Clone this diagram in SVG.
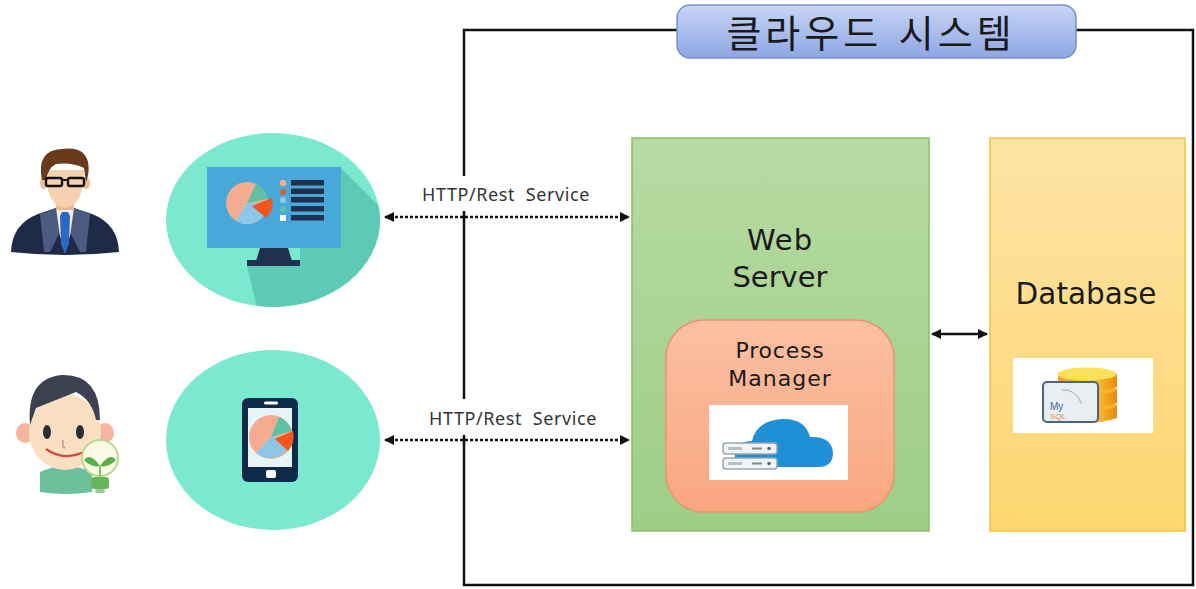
<svg xmlns="http://www.w3.org/2000/svg" width="1196" height="589" viewBox="0 0 1196 589">
  <defs>
    <style>
      .lbl { font-family: "Noto Sans", "Liberation Sans", sans-serif; fill: #333; letter-spacing: 0.6px; }
      .big { font-family: "DejaVu Sans", "Liberation Sans", sans-serif; fill: #1a1a1a; text-anchor: middle; }
      .kr { font-family: "Noto Sans CJK KR", "Noto Sans", sans-serif; fill: #1a1a1a; text-anchor: middle; }
      .frame { fill: none; stroke: #111; stroke-width: 2.5; }
      .dotted { fill: none; stroke: #111; stroke-width: 2.5; stroke-dasharray: 3 2; }
      .solid { fill: none; stroke: #111; stroke-width: 2.5; }
      .bubble { fill: #7be9d0; }
    </style>
    <linearGradient id="gTitle" x1="0" y1="0" x2="0" y2="1">
      <stop offset="0" stop-color="#c7d5f5"/>
      <stop offset="1" stop-color="#8ea6e3"/>
    </linearGradient>
    <linearGradient id="gWeb" x1="0" y1="0" x2="0" y2="1">
      <stop offset="0" stop-color="#b7daa3"/>
      <stop offset="1" stop-color="#9dce86"/>
    </linearGradient>
    <linearGradient id="gDb" x1="0" y1="0" x2="0" y2="1">
      <stop offset="0" stop-color="#fee3a6"/>
      <stop offset="1" stop-color="#fdd66f"/>
    </linearGradient>
    <linearGradient id="gProc" x1="0" y1="0" x2="0" y2="1">
      <stop offset="0" stop-color="#fbc0a2"/>
      <stop offset="1" stop-color="#f9a680"/>
    </linearGradient>
    <linearGradient id="gDisc" x1="0" y1="0" x2="1" y2="0">
      <stop offset="0" stop-color="#f6a21a"/>
      <stop offset="0.5" stop-color="#fdd54a"/>
      <stop offset="1" stop-color="#e98a10"/>
    </linearGradient>
    <clipPath id="clipTop">
      <ellipse cx="273" cy="220" rx="107" ry="87"/>
    </clipPath>
    <marker id="ah" viewBox="0 0 10 10" refX="9" refY="5" markerWidth="4" markerHeight="4" orient="auto-start-reverse" markerUnits="strokeWidth">
      <path d="M0,0 L10,5 L0,10 Z" fill="#111"/>
    </marker>
  </defs>

  <rect width="1196" height="589" fill="#fff"/>

  <!-- outer frame of the cloud system -->
  <g id="cloud-frame">
    <path class="frame" d="M678,30 H464 V585 H1193 V30 H1076"/>
    <rect x="677" y="5" width="399" height="53" rx="13" fill="url(#gTitle)" stroke="#7a90cc" stroke-width="1.5"/>
    <text class="kr" x="871" y="47" font-size="38" letter-spacing="4" word-spacing="4">클라우드 시스템</text>
  </g>

  <!-- connectors -->
  <g id="connectors">
    <rect x="405" y="176" width="200" height="35" fill="#fff"/>
    <rect x="410" y="399" width="205" height="36" fill="#fff"/>
    <line class="dotted" x1="385" y1="217" x2="629" y2="217" marker-start="url(#ah)" marker-end="url(#ah)"/>
    <line class="dotted" x1="385" y1="440" x2="629" y2="440" marker-start="url(#ah)" marker-end="url(#ah)"/>
    <line class="solid" x1="932" y1="334" x2="987" y2="334" marker-start="url(#ah)" marker-end="url(#ah)"/>
    <text class="lbl" x="506" y="201" font-size="18" text-anchor="middle" xml:space="preserve">HTTP/Rest  Service</text>
    <text class="lbl" x="513" y="425" font-size="18" text-anchor="middle" xml:space="preserve">HTTP/Rest  Service</text>
  </g>

  <!-- businessman -->
  <g id="user-manager">
    <path d="M11,252 Q12,224 38,214 L56,208 L74,208 L92,214 Q118,224 119,252 Q65,258 11,252 Z" fill="#1f2a48"/>
    <path d="M40,214 L56,208 L60,232 L50,252 L44,252 Z" fill="#4c5b80"/>
    <path d="M90,214 L74,208 L70,232 L80,252 L86,252 Z" fill="#4c5b80"/>
    <path d="M56,208 L74,208 L70,236 L65,250 L60,236 Z" fill="#f1f1f1"/>
    <rect x="56" y="196" width="18" height="14" fill="#e9b991"/>
    <path d="M62,212 L68,212 L70,216 L69,244 L65,254 L61,244 L60,216 Z" fill="#2b68c4"/>
    <ellipse cx="44" cy="183" rx="4" ry="6" fill="#eebc96"/>
    <ellipse cx="86" cy="183" rx="4" ry="6" fill="#eebc96"/>
    <path d="M46,170 Q46,206 65,208 Q84,206 84,170 Z" fill="#f5d1b0"/>
    <path d="M42,180 Q36,150 62,149 Q84,146 88,162 Q90,172 86,182 L84,168 Q72,162 56,164 Q48,168 46,180 Z" fill="#6a3a1c"/>
    <rect x="46" y="178" width="16" height="8" rx="2" fill="none" stroke="#111" stroke-width="2.4"/>
    <rect x="68" y="178" width="16" height="8" rx="2" fill="none" stroke="#111" stroke-width="2.4"/>
    <line x1="62" y1="180" x2="68" y2="180" stroke="#111" stroke-width="2"/>
  </g>

  <!-- young user with light bulb -->
  <g id="user-student">
    <path d="M40,492 L40,472 Q65,460 92,472 L92,492 Q66,496 40,492 Z" fill="#6cc09b"/>
    <ellipse cx="25" cy="433" rx="9" ry="10" fill="#f6b5a0"/>
    <ellipse cx="105" cy="433" rx="9" ry="10" fill="#f6b5a0"/>
    <ellipse cx="65" cy="432" rx="36" ry="38" fill="#fbdfc2"/>
    <path d="M30,425 Q26,378 62,375 Q100,374 100,420 L96,420 Q92,400 76,392 Q56,400 36,408 Z" fill="#3b4150"/>
    <ellipse cx="47" cy="432" rx="4" ry="7" fill="#2a2e38"/>
    <ellipse cx="80" cy="432" rx="4" ry="7" fill="#2a2e38"/>
    <path d="M63,440 Q62,447 65,448" fill="none" stroke="#c99070" stroke-width="1.5"/>
    <path d="M46,449 Q64,462 86,451" fill="none" stroke="#d84343" stroke-width="2.2"/>
    <circle cx="100" cy="458" r="18" fill="#fcfbe6" stroke="#b7d98c" stroke-width="2"/>
    <path d="M100,466 Q90,452 84,460 Q92,468 100,466 Z" fill="#54b04a"/>
    <path d="M100,466 Q110,452 116,460 Q108,468 100,466 Z" fill="#54b04a"/>
    <line x1="100" y1="466" x2="100" y2="476" stroke="#54b04a" stroke-width="1.5"/>
    <rect x="91" y="477" width="18" height="12" rx="3" fill="#66b65e"/>
    <rect x="95" y="489" width="10" height="4" rx="2" fill="#9cc79a"/>
  </g>

  <!-- dashboard client (monitor) -->
  <g id="client-monitor">
    <ellipse class="bubble" cx="273" cy="220" rx="107" ry="87"/>
    <path d="M341,168 L420,247 L420,320 L260,320 L247,266 L300,266 L300,248 L341,248 Z" fill="#5ccab7" clip-path="url(#clipTop)"/>
    <rect x="207" y="167" width="134" height="81" fill="#47a8d9"/>
    <path d="M260,248 L288,248 L292,261 L256,261 Z" fill="#1f3050"/>
    <rect x="247" y="260" width="53" height="6" fill="#1f3050"/>
    <circle cx="247" cy="203" r="21" fill="#f5ad92"/>
    <path d="M247,203 L268,203 A21,21 0 0,1 236,221 Z" fill="#8dc6e6"/>
    <path d="M247,203 L256,184 A21,21 0 0,1 268,199 Z" fill="#5cc2a6"/>
    <path d="M252,206 L272,198 A21,21 0 0,1 266,218 Z" fill="#f3561a"/>
    <circle cx="283" cy="183" r="3.2" fill="#f5ad92"/>
    <circle cx="283" cy="192" r="3.2" fill="#c46a3c"/>
    <circle cx="283" cy="200" r="3.2" fill="#8dc6e6"/>
    <circle cx="283" cy="209" r="3.2" fill="#5cc2a6"/>
    <rect x="280" y="215" width="6" height="6" fill="#fff"/>
    <rect x="291" y="180" width="33" height="5.5" fill="#1f3050"/>
    <rect x="291" y="188.5" width="33" height="5.5" fill="#1f3050"/>
    <rect x="291" y="197" width="33" height="5.5" fill="#1f3050"/>
    <rect x="291" y="206" width="33" height="5.5" fill="#1f3050"/>
    <rect x="291" y="215" width="33" height="5.5" fill="#1f3050"/>
  </g>

  <!-- mobile client (phone) -->
  <g id="client-phone">
    <ellipse class="bubble" cx="273" cy="440" rx="107" ry="90"/>
    <rect x="242" y="398" width="56" height="84" rx="6" fill="#0e2c4a"/>
    <rect x="248" y="408" width="44" height="59" fill="#e7f4f7"/>
    <rect x="264" y="401.5" width="14" height="3" rx="1.5" fill="#fff"/>
    <rect x="266" y="470" width="10" height="8" rx="2" fill="#fff"/>
    <circle cx="271" cy="437" r="22" fill="#f5ad92"/>
    <path d="M271,437 L292,437 A22,22 0 0,1 256,453 Z" fill="#8dc6e6"/>
    <path d="M271,437 L279,417 A22,22 0 0,1 292,431 Z" fill="#5cc2a6"/>
    <path d="M275,439 L293,431 A22,22 0 0,1 288,451 Z" fill="#f3561a"/>
  </g>

  <!-- web server -->
  <g id="web-server">
    <rect x="632" y="138" width="297" height="393" fill="url(#gWeb)" stroke="#8bbd6c" stroke-width="1.5"/>
    <text class="big" x="780" y="250" font-size="29" letter-spacing="1">Web</text>
    <text class="big" x="780" y="287" font-size="29">Server</text>
  </g>

  <!-- process manager inside the web server -->
  <g id="process-manager">
    <rect x="666" y="320" width="228" height="192" rx="38" fill="url(#gProc)" stroke="#eb9270" stroke-width="1.5"/>
    <text class="big" x="780" y="358" font-size="22" letter-spacing="0.8" fill="#222">Process</text>
    <text class="big" x="780" y="386" font-size="22" letter-spacing="1" fill="#222">Manager</text>
    <rect x="709" y="405" width="139" height="75" fill="#fff"/>
    <path d="M747,467 Q733,467 735,453 Q737,441 752,441 Q756,421 782,419 Q805,418 810,437 Q832,436 833,453 Q833,467 818,467 Z" fill="#1f8fd6"/>
    <rect x="723" y="443" width="54" height="11" rx="3" fill="#f2f4f6" stroke="#9aa4ae" stroke-width="1.5"/>
    <rect x="723" y="458" width="54" height="11" rx="3" fill="#f2f4f6" stroke="#9aa4ae" stroke-width="1.5"/>
    <rect x="728" y="447" width="14" height="3" fill="#b7c0c8"/>
    <rect x="728" y="462" width="14" height="3" fill="#b7c0c8"/>
    <rect x="752" y="447.5" width="10" height="2" fill="#7f8a94"/>
    <rect x="752" y="462.5" width="10" height="2" fill="#7f8a94"/>
    <circle cx="769" cy="448.5" r="1.8" fill="#5a6570"/>
    <circle cx="769" cy="463.5" r="1.8" fill="#5a6570"/>
  </g>

  <!-- database -->
  <g id="database">
    <rect x="990" y="138" width="195" height="393" fill="url(#gDb)" stroke="#f2c23a" stroke-width="1.5"/>
    <text class="big" x="1086" y="304" font-size="29.5">Database</text>
    <rect x="1013" y="358" width="140" height="75" fill="#fff"/>
    <path d="M1058,405 L1058,418 Q1087,428 1117,418 L1117,405 Z" fill="url(#gDisc)"/>
    <ellipse cx="1087" cy="405" rx="29.5" ry="6" fill="#f7b52c"/>
    <path d="M1058,389 L1058,403 Q1087,412 1117,403 L1117,389 Z" fill="url(#gDisc)"/>
    <ellipse cx="1087" cy="389" rx="29.5" ry="6" fill="#f7b52c"/>
    <path d="M1058,374 L1058,387 Q1087,396 1117,387 L1117,374 Z" fill="url(#gDisc)"/>
    <ellipse cx="1087" cy="374" rx="29.5" ry="6.5" fill="#fde05a"/>
    <rect x="1043" y="382" width="55" height="40" rx="4" fill="#e9eef3" stroke="#4b6482" stroke-width="2"/>
    <path d="M1062,390 Q1074,388 1082,404" fill="none" stroke="#9aa8b8" stroke-width="1"/>
    <text x="1050" y="410" font-family="Liberation Sans, sans-serif" font-size="10" fill="#3d6aa6">My</text>
    <text x="1050" y="419" font-family="Liberation Sans, sans-serif" font-size="8" fill="#e0902a">SQL</text>
  </g>
</svg>
